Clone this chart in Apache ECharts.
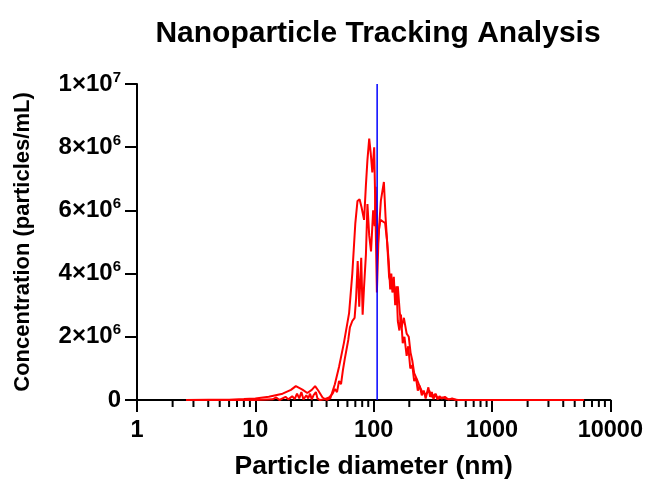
<!DOCTYPE html>
<html><head><meta charset="utf-8">
<script src="https://cdn.jsdelivr.net/npm/echarts@6/dist/echarts.min.js"></script>
<style>html,body{margin:0;padding:0;background:#fff}#c{width:646px;height:486px}</style>
</head><body><div id="c"></div>
<script>
const titleText = 'Nanoparticle Tracking Analysis';
const xAxisName = 'Particle diameter (nm)';
const yAxisName = 'Concentration (particles/mL)';

// Sample 1 (smoother trace)
const sizesA = [2.6, 4, 6, 8, 10, 13, 17, 20, 22, 25, 27.5, 30, 32, 34, 37, 40, 43, 47, 51, 56, 62, 66, 70, 73, 76, 79, 83, 86, 88.6, 91.7, 94.5, 97.4, 101, 104, 106.5, 110, 115, 122, 126, 130, 135, 142, 148, 155, 160, 166, 172, 180, 190, 198, 205, 212, 220, 232, 245, 258, 275, 295, 310, 330, 350, 380, 420, 470, 520, 6000];
const concA = [0, 0.005e6, 0.01e6, 0.03e6, 0.05e6, 0.1e6, 0.2e6, 0.32e6, 0.44e6, 0.33e6, 0.22e6, 0.32e6, 0.44e6, 0.3e6, 0.08e6, 0, 0.05e6, 0.5e6, 1.05e6, 1.8e6, 2.75e6, 4.0e6, 5.6e6, 6.3e6, 6.35e6, 6.1e6, 5.7e6, 6.8e6, 7.6e6, 8.27e6, 7.8e6, 7.2e6, 8.0e6, 5.5e6, 3.4e6, 5.2e6, 6.3e6, 6.9e6, 5.8e6, 5.0e6, 3.9e6, 3.6e6, 3.7e6, 3.1e6, 3.6e6, 2.8e6, 2.3e6, 2.6e6, 2.1e6, 2.0e6, 1.5e6, 1.25e6, 0.85e6, 0.65e6, 0.42e6, 0.25e6, 0.18e6, 0.3e6, 0.1e6, 0.18e6, 0.05e6, 0.08e6, 0.03e6, 0.02e6, 0, 0];

// Sample 2 (jagged trace)
const sizesB = [2.6, 10, 14, 15, 16, 18, 19, 20.5, 21.5, 22.5, 23.5, 24.5, 25.5, 27, 28, 29, 30, 31, 32.5, 33.5, 35, 38, 42, 45, 47, 49, 51, 53, 55, 57, 59, 61, 63, 66, 69, 71, 73.3, 75.5, 78.5, 80.7, 83, 86, 88.6, 91.7, 95, 99, 102, 104, 106, 108, 111, 114, 118, 125, 130, 134, 138, 141, 144, 148, 152, 156, 160, 165, 170, 176, 182, 190, 196, 204, 212, 220, 228, 236, 245, 255, 265, 275, 290, 300, 310, 320, 335, 345, 360, 375, 400, 430, 460, 500, 530, 6000];
const concB = [0, 0, 0.02e6, 0.08e6, 0, 0.1e6, 0.02e6, 0.12e6, 0.03e6, 0.2e6, 0.05e6, 0.25e6, 0.02e6, 0.15e6, 0.05e6, 0.2e6, 0.02e6, 0.15e6, 0.25e6, 0.05e6, 0, 0.02e6, 0.08e6, 0.2e6, 0.35e6, 0.25e6, 0.6e6, 0.5e6, 0.95e6, 1.3e6, 1.25e6, 1.9e6, 2.3e6, 2.5e6, 2.6e6, 3.2e6, 4.4e6, 2.95e6, 4.5e6, 2.7e6, 3.6e6, 4.6e6, 6.2e6, 5.2e6, 4.7e6, 6.0e6, 5.5e6, 6.75e6, 5.6e6, 4.8e6, 5.4e6, 5.7e6, 5.7e6, 5.6e6, 5.0e6, 4.4e6, 3.5e6, 4.0e6, 3.4e6, 3.9e6, 3.0e6, 3.6e6, 2.5e6, 2.2e6, 2.7e6, 1.8e6, 2.0e6, 1.4e6, 1.7e6, 1.0e6, 1.1e6, 0.6e6, 0.7e6, 0.3e6, 0.45e6, 0.15e6, 0.3e6, 0.05e6, 0.4e6, 0.1e6, 0.25e6, 0.03e6, 0.2e6, 0.02e6, 0.12e6, 0.04e6, 0.1e6, 0.01e6, 0.05e6, 0, 0, 0];

// Vertical marker (mode diameter)
const markerSizes = [107, 107];
const markerConc = [0, 1e7];

// Axis ticks
const xMajorTicks = [1, 10, 100, 1000, 10000];
const xMinorTicks = [2, 3, 4, 5, 6, 7, 8, 9, 20, 30, 40, 50, 60, 70, 80, 90, 200, 300, 400, 500, 600, 700, 800, 900, 2000, 3000, 4000, 5000, 6000, 7000, 8000, 9000];
const yTicks = [0, 2e6, 4e6, 6e6, 8e6, 1e7];

const zip = (xs, ys) => xs.map((x, i) => [x, ys[i]]);
const FONT = '"Liberation Sans", Arial, Helvetica, sans-serif';

function yFmt(v) {
  if (v === 0) return '{b|0}';
  const e = Math.floor(Math.log10(v) + 1e-9);
  const m = Math.round(v / Math.pow(10, e));
  return '{b|' + m + '×10}{s|' + e + '}';
}

const chart = echarts.init(document.getElementById('c'), null, {renderer: 'canvas'});
chart.setOption({
  animation: false,
  backgroundColor: '#fff',
  title: {
    text: titleText, left: 373, top: 14, textAlign: 'center',
    textStyle: {fontFamily: FONT, fontWeight: 'bold', fontSize: 30, color: '#000'}
  },
  grid: {left: 137, right: 34, top: 84, bottom: 86, containLabel: false},
  xAxis: {
    type: 'log', logBase: 10, min: xMajorTicks[0], max: xMajorTicks[xMajorTicks.length - 1],
    name: xAxisName, nameLocation: 'middle', nameGap: 53,
    nameTextStyle: {fontFamily: FONT, fontWeight: 'bold', fontSize: 26.5, color: '#000'},
    axisLine: {lineStyle: {color: '#000', width: 2}},
    axisTick: {show: true, length: 12, lineStyle: {color: '#000', width: 2}},
    axisLabel: {
      margin: 19, fontFamily: FONT, fontWeight: 'bold', fontSize: 23.5, color: '#000',
      formatter: v => String(Math.round(v))
    },
    splitLine: {show: false}
  },
  yAxis: {
    type: 'value', min: yTicks[0], max: yTicks[yTicks.length - 1], interval: yTicks[1] - yTicks[0],
    name: yAxisName, nameLocation: 'middle', nameGap: 103,
    nameTextStyle: {fontFamily: FONT, fontWeight: 'bold', fontSize: 22, color: '#000'},
    axisLine: {show: true, lineStyle: {color: '#000', width: 2}},
    axisTick: {show: true, length: 12, lineStyle: {color: '#000', width: 2}},
    axisLabel: {
      margin: 16, formatter: yFmt,
      rich: {
        b: {fontFamily: FONT, fontWeight: 'bold', fontSize: 24, color: '#000', lineHeight: 28},
        s: {fontFamily: FONT, fontWeight: 'bold', fontSize: 15, color: '#000', lineHeight: 26, verticalAlign: 'top'}
      }
    },
    splitLine: {show: false}
  },
  series: [
    {
      type: 'custom', name: 'minorTicks', silent: true, clip: false, z: 1,
      data: xMinorTicks.map(v => [v, 0]),
      renderItem: (params, api) => {
        const p = api.coord([api.value(0), 0]);
        return {type: 'line', shape: {x1: p[0], y1: p[1], x2: p[0], y2: p[1] + 7},
          style: {stroke: '#000', lineWidth: 2}};
      }
    },
    {
      type: 'line', name: 'Sample 1', data: zip(sizesA, concA), symbol: 'none',
      lineStyle: {color: '#ff0000', width: 2}, itemStyle: {color: '#ff0000'}, z: 3, clip: false
    },
    {
      type: 'line', name: 'Sample 2', data: zip(sizesB, concB), symbol: 'none',
      lineStyle: {color: '#ff0000', width: 2}, itemStyle: {color: '#ff0000'}, z: 3, clip: false
    },
    {
      type: 'line', name: 'Mode', data: zip(markerSizes, markerConc), symbol: 'none',
      lineStyle: {color: '#0000ff', width: 1.5}, itemStyle: {color: '#0000ff'}, z: 4
    }
  ]
});
</script></body></html>
